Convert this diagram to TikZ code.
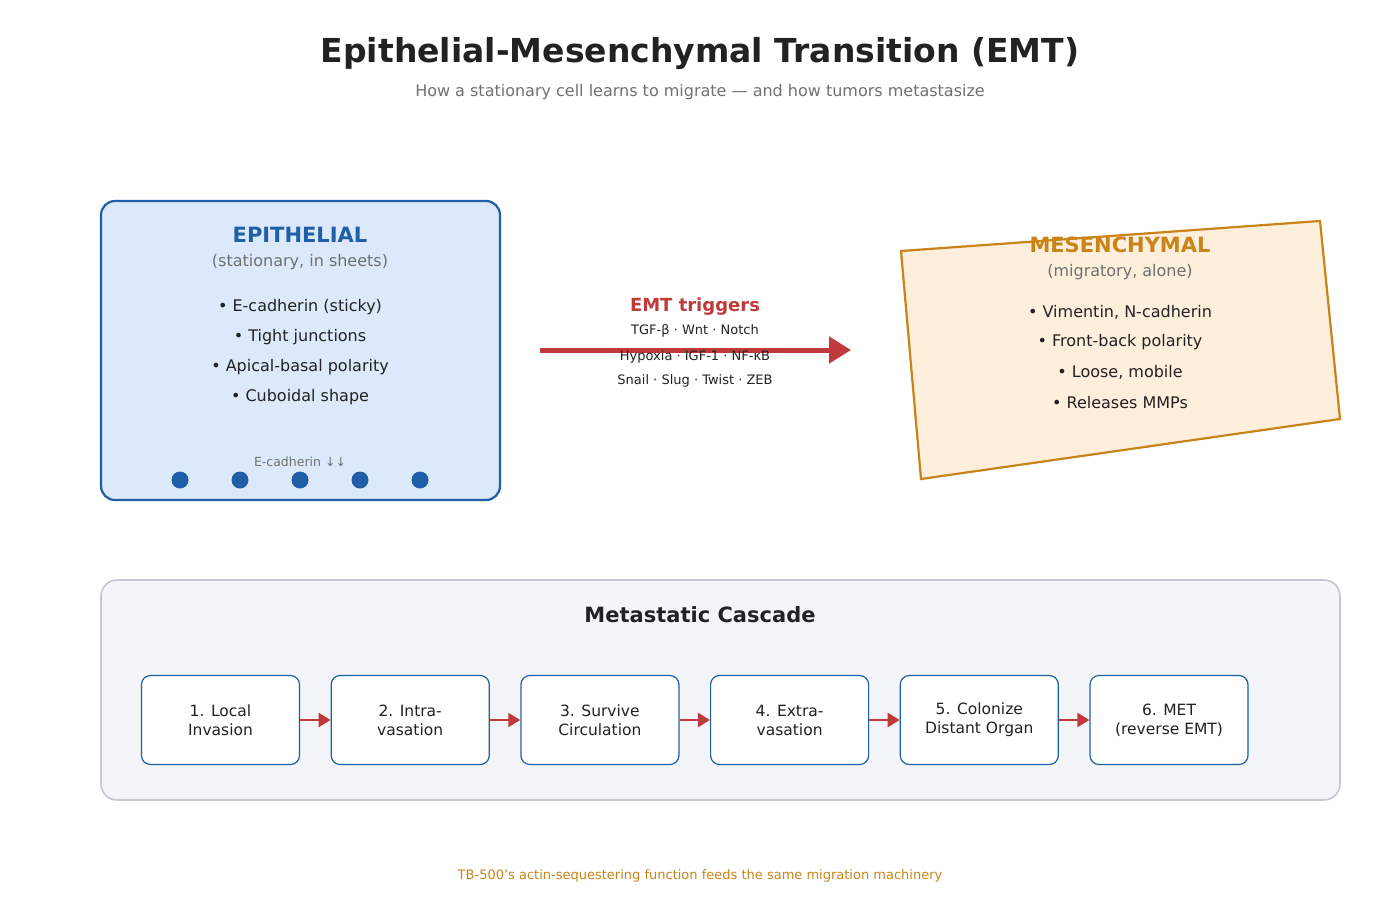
\documentclass[tikz,border=0pt]{standalone}
\usepackage{fontspec}
\setmainfont{DejaVu Sans}
\usetikzlibrary{arrows.meta,positioning}
\definecolor{epiblue}{HTML}{1F5FA8}
\definecolor{epifill}{HTML}{DCE9FA}
\definecolor{mesorange}{HTML}{C98317}
\definecolor{mesfill}{HTML}{FDEFDC}
\definecolor{trigred}{HTML}{C0393B}
\definecolor{casfill}{HTML}{F3F5F9}
\definecolor{casline}{HTML}{C4C8D0}
\definecolor{txt}{HTML}{222222}
\definecolor{subtxt}{HTML}{707070}

\begin{document}
\begin{tikzpicture}
	[x=1pt,y=-1pt,
		stage node/.style={draw=epiblue,fill=white,rounded corners=9pt,line width=1.2pt,minimum width=158pt,minimum height=89pt,align=center,font=\fontsize{15.5}{19}\selectfont,text=txt},
		step arrow/.style={-{Triangle[length=12pt,width=14pt]},trigred,line width=2.4pt},
		point/.style={font=\fontsize{16}{19}\selectfont,text=txt}]

	\useasboundingbox (0,0) rectangle (1400,900);

	\node[font=\bfseries\fontsize{33}{38}\selectfont,text=txt] (title) at (700,54) {Epithelial-Mesenchymal Transition (EMT)};
	\node[font=\fontsize{16}{19}\selectfont,text=subtxt] (subtitle) at (700,92) {How a stationary cell learns to migrate — and how tumors metastasize};

	% epithelial cell
	\draw[epiblue,fill=epifill,line width=2.2pt,rounded corners=14pt] (101,201) rectangle (500,500);
	\node[font=\bfseries\fontsize{21}{25}\selectfont,text=epiblue] (epi) at (300,235) {EPITHELIAL};
	\node[font=\fontsize{16}{19}\selectfont,text=subtxt] (episub) at (300,262) {(stationary, in sheets)};
	\node[point] (e1) at (300,307) {• E-cadherin (sticky)};
	\node[point] (e2) at (300,337) {• Tight junctions};
	\node[point] (e3) at (300,367) {• Apical-basal polarity};
	\node[point] (e4) at (300,397) {• Cuboidal shape};
	\node[font=\fontsize{12.5}{15}\selectfont,text=subtxt] (ecad) at (300,462) {E-cadherin ↓↓};
	\foreach \x in {180,240,...,420}
		\fill[epiblue] (\x,480) circle (8.5pt);

	% triggers
	\coordinate (tstart) at (540,350);
	\coordinate (tend) at (851,350);
	\draw[-{Triangle[length=22pt,width=26pt]},trigred,line width=5pt] (tstart) -- (tend);
	\node[font=\bfseries\fontsize{18}{22}\selectfont,text=trigred] (trig) at (695,307) {EMT triggers};
	\node[font=\fontsize{13}{15}\selectfont,text=txt] (t1) at (695,331) {TGF-β · Wnt · Notch};
	\node[font=\fontsize{13}{15}\selectfont,text=txt] (t2) at (695,357) {Hypoxia · IGF-1 · NF-κB};
	\node[font=\fontsize{13}{15}\selectfont,text=txt] (t3) at (695,381) {Snail · Slug · Twist · ZEB};

	% mesenchymal cell
	\draw[mesorange,fill=mesfill,line width=2.2pt] (901,251) -- (1320,221) -- (1340,419) -- (921,479) -- cycle;
	\node[font=\bfseries\fontsize{21}{25}\selectfont,text=mesorange] (mes) at (1120,245) {MESENCHYMAL};
	\node[font=\fontsize{16}{19}\selectfont,text=subtxt] (messub) at (1120,272) {(migratory, alone)};
	\node[point] (m1) at (1120,312) {• Vimentin, N-cadherin};
	\node[point] (m2) at (1120,342) {• Front-back polarity};
	\node[point] (m3) at (1120,372) {• Loose, mobile};
	\node[point] (m4) at (1120,403) {• Releases MMPs};

	% cascade
	\draw[casline,fill=casfill,line width=1.6pt,rounded corners=16pt] (101,580) rectangle (1340,800);
	\node[font=\bfseries\fontsize{21}{25}\selectfont,text=txt] (cas) at (700,615) {Metastatic Cascade};
	\node[stage node] (s1) at (220.5,720) {1. Local\\Invasion};
	\node[stage node,right=30.5pt of s1] (s2) {2. Intra-\\vasation};
	\node[stage node,right=30.5pt of s2] (s3) {3. Survive\\Circulation};
	\node[stage node,right=30.5pt of s3] (s4) {4. Extra-\\vasation};
	\node[stage node,right=30.5pt of s4] (s5) {5. Colonize\\Distant Organ};
	\node[stage node,right=30.5pt of s5] (s6) {6. MET\\(reverse EMT)};
	\foreach \a/\b in {s1/s2,s2/s3,s3/s4,s4/s5,s5/s6}
		\draw[step arrow] (\a) -- (\b);

	\node[font=\fontsize{13}{15}\selectfont,text=mesorange] (note) at (700,876) {TB-500's actin-sequestering function feeds the same migration machinery};
\end{tikzpicture}
\end{document}
